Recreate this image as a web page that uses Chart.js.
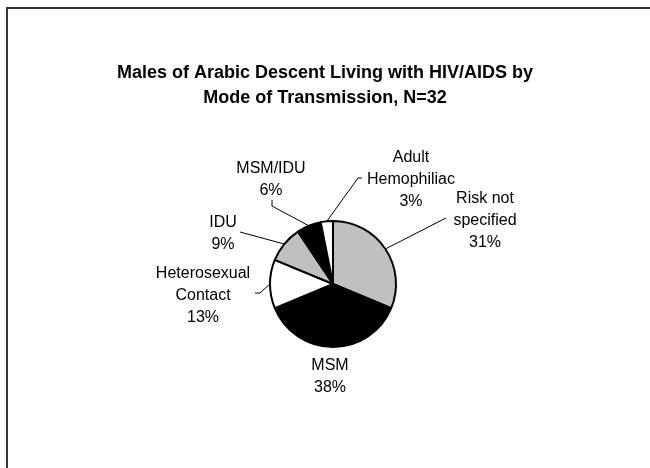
<!DOCTYPE html>
<html>
<head>
<meta charset="utf-8">
<script src="https://cdn.jsdelivr.net/npm/chart.js@4/dist/chart.umd.min.js"></script>
<style>
  body { margin: 0; background: #fff; }
  #wrap { width: 650px; height: 468px; }
</style>
</head>
<body>
<div id="wrap"><canvas id="pieChart" width="650" height="468"></canvas></div>
<script>
// data (N=32)
var categories = ['Risk not specified', 'MSM', 'Heterosexual Contact', 'IDU', 'MSM/IDU', 'Adult Hemophiliac'];
var labelLines = [['Risk not', 'specified'], ['MSM'], ['Heterosexual', 'Contact'], ['IDU'], ['MSM/IDU'], ['Adult', 'Hemophiliac']];
var counts = [10, 12, 4, 3, 2, 1];
var titleLines = ['Males of Arabic Descent Living with HIV/AIDS by', 'Mode of Transmission, N=32'];

var total = counts.reduce(function (a, b) { return a + b; }, 0);
var percents = counts.map(function (c) { return Math.round(c / total * 100) + '%'; });

var sliceColors = ['#c0c0c0', '#000000', '#ffffff', '#c0c0c0', '#000000', '#ffffff'];

// where each label block sits, relative to the pie centre, plus leader elbows
var labelOffsets = [[152, -63], [-3, 93], [-130, 12], [-110, -50], [-62, -104], [78, -104]];
var leaderPoints = [
    [[113, -66]],
    [],
    [[-73, 9], [-78, 9]],
    [[-93, -52]],
    [[-61, -78], [-61, -84]],
    [[25, -106], [29, -106]]
];

var FONT = '"Liberation Sans", Arial, sans-serif';

// frame + title + outside labels
var decorPlugin = {
    id: 'decor',
    beforeDraw: function (chart) {
        var c = chart.ctx;
        c.save();
        c.fillStyle = '#fff';
        c.fillRect(0, 0, chart.width, chart.height);
        c.strokeStyle = '#333';
        c.lineWidth = 2;
        c.beginPath();
        c.moveTo(7, chart.height);
        c.lineTo(7, 8);
        c.lineTo(chart.width, 8);
        c.stroke();

        c.fillStyle = '#000';
        c.font = 'bold 18px ' + FONT;
        c.textAlign = 'center';
        c.textBaseline = 'middle';
        titleLines.forEach(function (t, i) {
            c.fillText(t, 325, 73 + i * 25);
        });
        c.restore();
    },
    afterDatasetsDraw: function (chart) {
        var c = chart.ctx;
        var arcs = chart.getDatasetMeta(0).data;
        c.save();
        c.strokeStyle = '#000';
        c.lineWidth = 1;
        c.fillStyle = '#000';
        c.font = '16px ' + FONT;
        c.textAlign = 'center';
        c.textBaseline = 'middle';
        arcs.forEach(function (arc, i) {
            var p = arc.getProps(['x', 'y', 'startAngle', 'endAngle', 'outerRadius'], true);
            var mid = (p.startAngle + p.endAngle) / 2;
            var pts = leaderPoints[i];
            if (pts.length) {
                c.beginPath();
                c.moveTo(p.x + Math.cos(mid) * p.outerRadius, p.y + Math.sin(mid) * p.outerRadius);
                pts.forEach(function (q) { c.lineTo(p.x + q[0], p.y + q[1]); });
                c.stroke();
            }
            var lines = labelLines[i].concat([percents[i]]);
            var lh = 22;
            var cx = p.x + labelOffsets[i][0];
            var cy = p.y + labelOffsets[i][1] - (lines.length - 1) * lh / 2;
            lines.forEach(function (t, k) {
                c.fillText(t, cx, cy + k * lh);
            });
        });
        c.restore();
    }
};

var ctx = document.getElementById('pieChart').getContext('2d');

var pieChart = new Chart(ctx, {
    type: 'pie',
    data: {
        labels: categories,
        datasets: [{
            data: counts,
            backgroundColor: sliceColors,
            borderColor: '#000',
            borderWidth: 2
        }]
    },
    options: {
        responsive: false,
        devicePixelRatio: 1,
        animation: false,
        radius: 63,
        layout: { padding: { left: 16, right: 0, top: 100, bottom: 0 } },
        plugins: {
            legend: { display: false },
            title: { display: false },
            tooltip: { enabled: false }
        }
    },
    plugins: [decorPlugin]
});
</script>
</body>
</html>
